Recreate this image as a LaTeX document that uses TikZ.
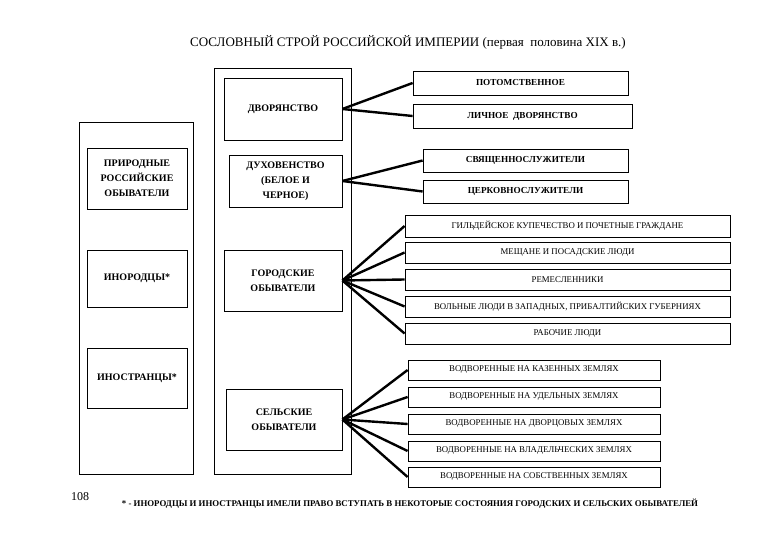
\documentclass[tikz,border=0pt]{standalone}
\usepackage{fontspec}
\setmainfont{Liberation Serif}
\begin{document}
\begin{tikzpicture}[x=1pt,y=-1pt,
  bx/.style={draw,line width=0.8pt,inner sep=0pt},
  big/.style={font=\bfseries\fontsize{10}{15}\selectfont,align=center},
  sm/.style={font=\fontsize{8.8}{10}\selectfont},
  smb/.style={font=\bfseries\fontsize{9.2}{10}\selectfont},
  con/.style={line width=2.4pt}]
\useasboundingbox (0,0) rectangle (780,540);
\node[font=\fontsize{13}{15}\selectfont] (title) at (408,42) {СОСЛОВНЫЙ СТРОЙ РОССИЙСКОЙ ИМПЕРИИ (первая~~половина XIX в.)};
\draw[line width=0.8pt] (79,122) rectangle (193,474);
\draw[line width=0.8pt] (214,68) rectangle (351,474);
\newcommand{\bxn}[6]{\node[bx,#6,minimum width=#3-#1,minimum height=#4-#2] (#5) at ({(#1+#3)/2},{(#2+#4)/2})}
\bxn{87}{148}{187}{209}{pri}{big}{ПРИРОДНЫЕ\\РОССИЙСКИЕ\\ОБЫВАТЕЛИ};
\bxn{87}{250}{187}{307}{ino}{big}{ИНОРОДЦЫ*};
\bxn{87}{348}{187}{408}{ins}{big}{ИНОСТРАНЦЫ*};
\bxn{224}{78}{342}{140}{dv}{big}{ДВОРЯНСТВО};
\bxn{229}{155}{342}{207}{du}{big}{ДУХОВЕНСТВО\\(БЕЛОЕ И\\ЧЕРНОЕ)};
\bxn{224}{250}{342}{311}{go}{big}{ГОРОДСКИЕ\\ОБЫВАТЕЛИ};
\bxn{226}{389}{342}{450}{se}{big}{СЕЛЬСКИЕ\\ОБЫВАТЕЛИ};
\bxn{413}{71}{628}{95}{r1}{smb}{ПОТОМСТВЕННОЕ};
\bxn{413}{104}{632}{128}{r2}{smb}{ЛИЧНОЕ~~ДВОРЯНСТВО};
\bxn{423}{149}{628}{172}{r3}{smb}{СВЯЩЕННОСЛУЖИТЕЛИ};
\bxn{423}{180}{628}{203}{r4}{smb}{ЦЕРКОВНОСЛУЖИТЕЛИ};
\bxn{405}{215}{730}{237}{g1}{sm}{ГИЛЬДЕЙСКОЕ КУПЕЧЕСТВО И ПОЧЕТНЫЕ ГРАЖДАНЕ};
\bxn{405}{242}{730}{263}{g2}{sm}{МЕЩАНЕ И ПОСАДСКИЕ ЛЮДИ};
\bxn{405}{269}{730}{290}{g3}{sm}{РЕМЕСЛЕННИКИ};
\bxn{405}{296}{730}{317}{g4}{sm}{ВОЛЬНЫЕ ЛЮДИ В ЗАПАДНЫХ, ПРИБАЛТИЙСКИХ ГУБЕРНИЯХ};
\bxn{405}{323}{730}{344}{g5}{sm}{РАБОЧИЕ ЛЮДИ};
\bxn{408}{360}{660}{380}{s1}{sm}{ВОДВОРЕННЫЕ НА КАЗЕННЫХ ЗЕМЛЯХ};
\bxn{408}{387}{660}{407}{s2}{sm}{ВОДВОРЕННЫЕ НА УДЕЛЬНЫХ ЗЕМЛЯХ};
\bxn{408}{414}{660}{434}{s3}{sm}{ВОДВОРЕННЫЕ НА ДВОРЦОВЫХ ЗЕМЛЯХ};
\bxn{408}{441}{660}{461}{s4}{sm}{ВОДВОРЕННЫЕ НА ВЛАДЕЛЬЧЕСКИХ ЗЕМЛЯХ};
\bxn{408}{467}{660}{487}{s5}{sm}{ВОДВОРЕННЫЕ НА СОБСТВЕННЫХ ЗЕМЛЯХ};
\foreach \a/\b in {dv/r1,dv/r2,du/r3,du/r4,go/g1,go/g2,go/g3,go/g4,go/g5,se/s1,se/s2,se/s3,se/s4,se/s5}
  \draw[con] (\a.east) -- (\b.west);
\node[font=\fontsize{12}{14}\selectfont] (pg) at (80,497) {108};
\node[font=\bfseries\fontsize{8.8}{10}\selectfont] (fn) at (410,504) {* - ИНОРОДЦЫ И ИНОСТРАНЦЫ ИМЕЛИ ПРАВО ВСТУПАТЬ В НЕКОТОРЫЕ СОСТОЯНИЯ ГОРОДСКИХ И СЕЛЬСКИХ ОБЫВАТЕЛЕЙ};
\end{tikzpicture}
\end{document}
